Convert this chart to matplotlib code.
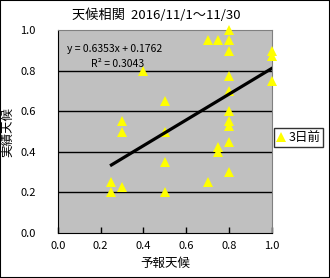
import numpy as np
import matplotlib.pyplot as plt
from matplotlib.patches import Rectangle

plt.rcParams['font.family'] = ['Noto Sans CJK JP', 'DejaVu Sans']

# 데이터 : 予報天候(x), 実績天候(y)
forecast = [0.25, 0.25, 0.3, 0.3, 0.3, 0.4, 0.5, 0.5, 0.5, 0.5,
            0.7, 0.7, 0.75, 0.75, 0.75,
            0.8, 0.8, 0.8, 0.8, 0.8, 0.8, 0.8, 0.8, 0.8, 0.8,
            1.0, 1.0, 1.0]
actual = [0.25, 0.2, 0.225, 0.55, 0.5, 0.8, 0.65, 0.5, 0.35, 0.2,
          0.95, 0.25, 0.95, 0.425, 0.4,
          1.0, 0.95, 0.9, 0.775, 0.7, 0.6, 0.55, 0.525, 0.45, 0.3,
          0.9, 0.875, 0.75]
slope = 0.6353
intercept = 0.1762
r2 = 0.3043
ticks = [0.0, 0.2, 0.4, 0.6, 0.8, 1.0]
tick_labels = ['0.0', '0.2', '0.4', '0.6', '0.8', '1.0']

fig = plt.figure(figsize=(3.3, 2.78), dpi=100)
fig.patches.append(Rectangle((0, 0), 1, 1, transform=fig.transFigure,
                             fill=False, edgecolor='black', linewidth=1.5))

ax = fig.add_axes([0.1758, 0.1626, 0.6475, 0.7284])
ax.set_facecolor('#C0C0C0')
ax.set_xlim(0, 1)
ax.set_ylim(0, 1)

# 그리드
for t in ticks[1:-1]:
    ax.axhline(t, color='black', linewidth=1, zorder=1)

ax.plot(forecast, actual, linestyle='none', marker='^', markersize=7,
        color='#FFFF00', markeredgewidth=0, label='3日前', zorder=3,
        clip_on=False)

# 추세선
xs = np.array([min(forecast), max(forecast)])
ax.plot(xs, slope * xs + intercept, color='black', linewidth=2.3, zorder=4)

ax.text(0.04, 0.91, 'y = %.4fx + %.4f' % (slope, intercept), transform=ax.transAxes,
        fontsize=7.5, va='center', ha='left')
ax.text(0.155, 0.835, 'R² = %.4f' % r2, transform=ax.transAxes,
        fontsize=7.5, va='center', ha='left')

ax.set_xticks(ticks)
ax.set_xticklabels(tick_labels, fontsize=8)
ax.set_yticks(ticks)
ax.set_yticklabels(tick_labels, fontsize=8)
ax.tick_params(axis='x', direction='in', length=4, width=1, pad=6)
ax.tick_params(axis='y', length=0, pad=16)

ax.spines['left'].set_color('black')
ax.spines['bottom'].set_color('black')
ax.spines['top'].set_color('#808080')
ax.spines['right'].set_color('#808080')

ax.set_xlabel('予報天候', fontsize=9, labelpad=4)
ax.set_ylabel('実績天候', fontsize=9, labelpad=4)

fig.text(0.475, 0.945, '天候相関  2016/11/1～11/30', fontsize=9.5,
         ha='center', va='center')

leg = ax.legend(loc='center left', bbox_to_anchor=(1.01, 0.47), frameon=True,
                fancybox=False, edgecolor='black', fontsize=9, handlelength=0.7,
                handletextpad=0.2, borderpad=0.25, borderaxespad=0)
leg.get_frame().set_linewidth(1)

plt.savefig('out.png', dpi=100)
